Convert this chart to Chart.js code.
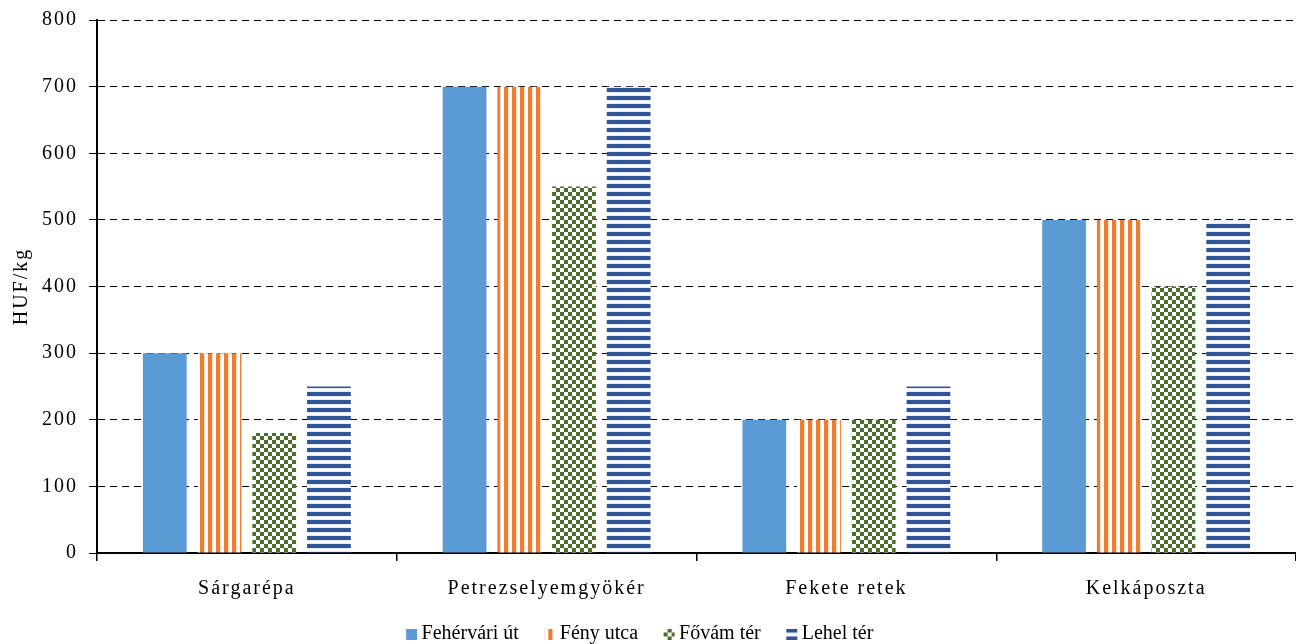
<!DOCTYPE html>
<html>
<head>
<meta charset="utf-8">
<script src="https://cdn.jsdelivr.net/npm/chart.js@4.4.1/dist/chart.umd.min.js"></script>
<style>
  html, body { margin: 0; padding: 0; background: #fff; }
  #wrap { width: 1296px; height: 644px; position: relative; }
</style>
</head>
<body>
<div id="wrap"><canvas id="chart"></canvas></div>
<script>
// ── Данные ─────────────────────────────────────────
const categories = ['Sárgarépa', 'Petrezselyemgyökér', 'Fekete retek', 'Kelkáposzta'];
const seriesNames = ['Fehérvári út', 'Fény utca', 'Fővám tér', 'Lehel tér'];
const fehervari = [300, 700, 200, 500];
const fenyUtca  = [300, 700, 200, 500];
const fovam     = [180, 550, 200, 400];
const lehel     = [250, 700, 250, 500];
const yTicks    = [0, 100, 200, 300, 400, 500, 600, 700, 800];

const FONT = '"Liberation Serif", "Times New Roman", serif';
const SPACING = '2px';

// ── Паттерны заливки ───────────────────────────────
function makePattern(w, h, draw) {
  const c = document.createElement('canvas');
  c.width = w; c.height = h;
  const g = c.getContext('2d');
  draw(g, w, h);
  return g.createPattern(c, 'repeat');
}

const vStripes = makePattern(8, 8, (g) => {
  g.fillStyle = '#fbe0cd'; g.fillRect(0, 0, 8, 8);
  g.fillStyle = '#ffffff'; g.fillRect(5, 0, 3, 8);
  g.fillStyle = '#ed7d31'; g.fillRect(0, 0, 4, 8);
});
const checker = makePattern(8, 8, (g) => {
  g.fillStyle = '#ffffff'; g.fillRect(0, 0, 8, 8);
  g.fillStyle = '#4a6e2c';
  g.fillRect(0, 0, 4, 4); g.fillRect(4, 4, 4, 4);
});
const hStripes = makePattern(8, 8, (g) => {
  g.fillStyle = '#e6ecf6'; g.fillRect(0, 0, 8, 8);
  g.fillStyle = '#ffffff'; g.fillRect(0, 5, 8, 2);
  g.fillStyle = '#2f5597'; g.fillRect(0, 0, 8, 4);
});

const fills = ['#5b9bd5', vStripes, checker, hStripes];
const values = [fehervari, fenyUtca, fovam, lehel];

// Маркер легенды: квадрат 11px, сдвинут вправо, ближе к тексту
function legendMarker(fill) {
  const c = document.createElement('canvas');
  c.width = 24; c.height = 11;
  const g = c.getContext('2d');
  g.fillStyle = fill;
  g.fillRect(12, 0, 11, 11);
  return c;
}
const markers = fills.map(legendMarker);

const datasets = seriesNames.map((name, i) => ({
  label: name,
  data: values[i],
  backgroundColor: fills[i],
  borderWidth: 0,
  categoryPercentage: 0.73,
  barPercentage: 0.8,
}));

// Разрядка букв в подписях осей (как в исходнике)
const letterSpacingPlugin = {
  id: 'letterSpacing',
  beforeUpdate(chart) { chart.ctx.letterSpacing = SPACING; },
  beforeDraw(chart) { chart.ctx.letterSpacing = SPACING; },
};

const chart = new Chart(document.getElementById('chart'), {
  type: 'bar',
  data: { labels: categories, datasets },
  plugins: [letterSpacingPlugin],
  options: {
    responsive: true,
    maintainAspectRatio: false,
    animation: false,
    layout: { padding: { top: 20, right: 0, left: 0, bottom: -10 } },
    plugins: {
      tooltip: { enabled: false },
      legend: {
        position: 'bottom',
        labels: {
          font: { family: FONT, size: 20 },
          color: '#000',
          usePointStyle: true,
          boxWidth: 11,
          boxHeight: 11,
          padding: 20,
          generateLabels: (ch) => ch.data.datasets.map((ds, i) => ({
            text: ds.label,
            fillStyle: fills[i],
            strokeStyle: 'rgba(0,0,0,0)',
            lineWidth: 0,
            pointStyle: markers[i],
            fontColor: '#000',
            hidden: !ch.isDatasetVisible(i),
            datasetIndex: i,
          })),
        },
      },
    },
    scales: {
      x: {
        offset: true,
        grid: {
          offset: true,
          drawOnChartArea: false,
          drawTicks: true,
          tickLength: 8,
          color: '#000',
          lineWidth: 1.5,
        },
        border: { color: '#000', width: 2 },
        ticks: {
          font: { family: FONT, size: 20 },
          color: '#000',
          padding: 16,
        },
        afterFit: (s) => { s.height = 51; },
      },
      y: {
        min: 0,
        max: 800,
        afterBuildTicks: (s) => { s.ticks = yTicks.map((v) => ({ value: v })); },
        grid: {
          color: '#000',
          lineWidth: 1,
          tickLength: 8,
          tickBorderDash: [],
          tickColor: '#000',
        },
        border: { color: '#000', width: 2, dash: [7, 5] },
        ticks: {
          font: { family: FONT, size: 20 },
          color: '#000',
          padding: 11,
        },
        title: {
          display: true,
          text: 'HUF/kg',
          font: { family: FONT, size: 20 },
          color: '#000',
          padding: { top: 10, bottom: 0 },
        },
        afterFit: (s) => {
          s.width = 97;
          s.paddingTop = 0;
          s.paddingBottom = 0;
        },
      },
    },
  },
});

// Легенда — без разрядки и чуть левее центра, как в исходнике
['fit', 'draw'].forEach((m) => {
  const orig = chart.legend[m].bind(chart.legend);
  chart.legend[m] = function (...args) {
    const ctx = chart.ctx;
    const prev = ctx.letterSpacing;
    ctx.letterSpacing = '0px';
    const shift = m === 'draw' ? 22 : 0;
    chart.legend.right -= shift;
    const r = orig(...args);
    chart.legend.right += shift;
    ctx.letterSpacing = prev;
    return r;
  };
});
chart.update();
</script>
</body>
</html>
